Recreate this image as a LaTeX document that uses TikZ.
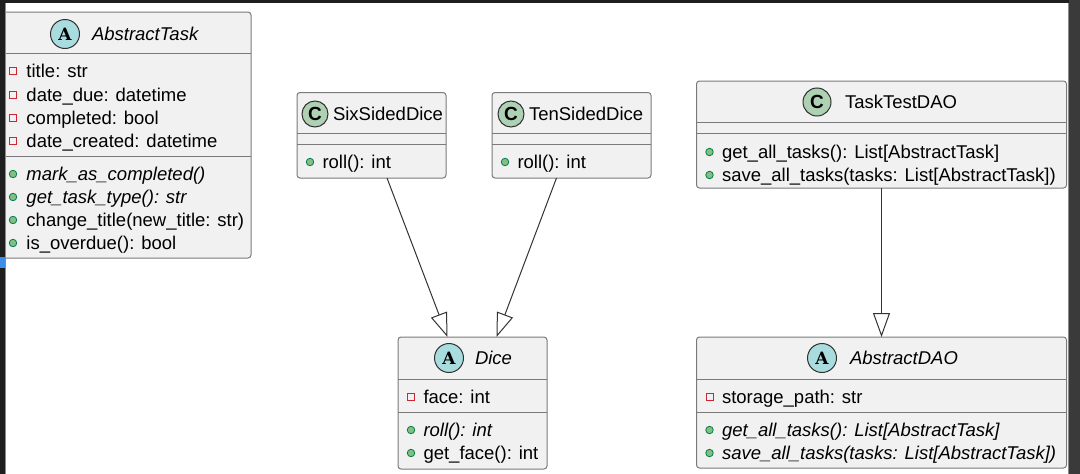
\documentclass[tikz,border=0pt]{standalone}
\usepackage{fontspec}
\setmainfont{Liberation Sans}
\newfontfamily\spotserif{DejaVu Serif}
\usetikzlibrary{arrows.meta,calc}
\definecolor{boxfill}{HTML}{F1F1F1}
\definecolor{boxline}{HTML}{7A7A7A}
\definecolor{spotline}{HTML}{303030}
\definecolor{absfill}{HTML}{A9DCDF}
\definecolor{clsfill}{HTML}{ADD1B2}
\definecolor{privred}{HTML}{C82930}
\definecolor{pubfill}{HTML}{84BE84}
\definecolor{publine}{HTML}{038048}
\definecolor{frameleft}{HTML}{1E1E1E}
\definecolor{frameright}{HTML}{3A3A3A}
\definecolor{frameedge}{HTML}{8A8A8A}
\definecolor{markblue}{HTML}{3B8EEA}
\tikzset{
  umlbox/.style={draw=boxline, fill=boxfill, line width=1pt, rounded corners=3pt, inner sep=0pt, outer sep=0pt, anchor=north west},
  sepline/.style={draw=boxline, line width=1pt},
  mtext/.style={anchor=base west, inner sep=0pt, outer sep=0pt, font=\fontsize{18.5}{22}\selectfont},
  itext/.style={mtext, font=\fontsize{18.5}{22}\selectfont\itshape},
  absspot/.style={circle, draw=spotline, fill=absfill, minimum size=29pt, inner sep=0pt, line width=1pt, font=\spotserif\bfseries\fontsize{17}{17}\selectfont},
  clsspot/.style={circle, draw=spotline, fill=clsfill, minimum size=#1, inner sep=0pt, line width=1pt, font=\bfseries\fontsize{19}{19}\selectfont},
  clsspot/.default=28pt,
  privm/.style={rectangle, draw=privred, line width=1pt, minimum size=7pt, inner sep=0pt},
  pubm/.style={circle, draw=publine, fill=pubfill, line width=0.8pt, minimum size=7.5pt, inner sep=0pt},
  ext/.style={draw=black!80, line width=1pt, -{Triangle[open, length=24pt, width=17pt]}}
}
\begin{document}
\begin{tikzpicture}[x=1pt,y=-1pt]
\useasboundingbox (0,0) rectangle (1080,474);
\fill[white] (0,0) rectangle (1080,474);

% ---------- AbstractTask ----------
\node[umlbox, minimum width=251pt, minimum height=246pt] (task) at (0,12) {};
\draw[sepline] (0,53) -- (251,53);
\draw[sepline] (0,156) -- (251,156);
\node[absspot] (taskspot) at (65,34) {A};
\node[itext] (tasktitle) at (92,40.5) {AbstractTask};
\node[privm] (tm1) at (13,71) {};
\node[mtext] (ta1) at (26.5,77.5) {title: str};
\node[privm] (tm2) at (13,94.5) {};
\node[mtext] (ta2) at (26.5,101) {date\_due: datetime};
\node[privm] (tm3) at (13,117.5) {};
\node[mtext] (ta3) at (26.5,124) {completed: bool};
\node[privm] (tm4) at (13,140.5) {};
\node[mtext] (ta4) at (26.5,147) {date\_created: datetime};
\node[pubm] (tm5) at (13,174) {};
\node[itext] (ta5) at (26.5,180.5) {mark\_as\_completed()};
\node[pubm] (tm6) at (13,197) {};
\node[itext] (ta6) at (26.5,203.5) {get\_task\_type(): str};
\node[pubm] (tm7) at (13,220) {};
\node[mtext] (ta7) at (26.5,226.5) {change\_title(new\_title: str)};
\node[pubm] (tm8) at (13,243) {};
\node[mtext] (ta8) at (26.5,249.5) {is\_overdue(): bool};

% ---------- SixSidedDice ----------
\node[umlbox, minimum width=149pt, minimum height=85.5pt] (six) at (297,92.5) {};
\draw[sepline] (297,133) -- (446,133);
\draw[sepline] (297,144) -- (446,144);
\node[clsspot=26pt] (sixspot) at (315,114) {C};
\node[mtext] (sixtitle) at (333,120.5) {SixSidedDice};
\node[pubm] (sm1) at (310,162) {};
\node[mtext] (sa1) at (322.5,168.5) {roll(): int};

% ---------- TenSidedDice ----------
\node[umlbox, minimum width=159pt, minimum height=85.5pt] (ten) at (492,92.5) {};
\draw[sepline] (492,133) -- (651,133);
\draw[sepline] (492,144) -- (651,144);
\node[clsspot=26pt] (tenspot) at (511,114) {C};
\node[mtext] (tentitle) at (529,120.5) {TenSidedDice};
\node[pubm] (nm1) at (505,162) {};
\node[mtext] (na1) at (517.5,168.5) {roll(): int};

% ---------- Dice ----------
\node[umlbox, minimum width=149pt, minimum height=132pt] (dice) at (398,337) {};
\draw[sepline] (398,379) -- (547,379);
\draw[sepline] (398,412) -- (547,412);
\node[absspot] (dicespot) at (449,358) {A};
\node[itext] (dicetitle) at (475,364.5) {Dice};
\node[privm] (dm1) at (411,396.5) {};
\node[mtext] (da1) at (423.5,403) {face: int};
\node[pubm] (dm2) at (411,430) {};
\node[itext] (da2) at (423.5,436.5) {roll(): int};
\node[pubm] (dm3) at (411,453) {};
\node[mtext] (da3) at (423.5,459.5) {get\_face(): int};

% ---------- TaskTestDAO ----------
\node[umlbox, minimum width=370pt, minimum height=107pt] (tdao) at (696.5,81) {};
\draw[sepline] (696.5,122) -- (1066.5,122);
\draw[sepline] (696.5,133) -- (1066.5,133);
\node[clsspot] (tdaospot) at (817,102) {C};
\node[mtext] (tdaotitle) at (845,108.5) {TaskTestDAO};
\node[pubm] (pm1) at (709.5,152) {};
\node[mtext] (pa1) at (722,158.5) {get\_all\_tasks(): List[AbstractTask]};
\node[pubm] (pm2) at (709.5,175) {};
\node[mtext] (pa2) at (722,181.5) {save\_all\_tasks(tasks: List[AbstractTask])};

% ---------- AbstractDAO ----------
\node[umlbox, minimum width=370pt, minimum height=131pt] (adao) at (696.5,337) {};
\draw[sepline] (696.5,379) -- (1066.5,379);
\draw[sepline] (696.5,412) -- (1066.5,412);
\node[absspot] (adaospot) at (822,358) {A};
\node[itext] (adaotitle) at (850,364.5) {AbstractDAO};
\node[privm] (qm1) at (709.5,396.5) {};
\node[mtext] (qa1) at (722,403) {storage\_path: str};
\node[pubm] (qm2) at (709.5,430) {};
\node[itext] (qa2) at (722,436.5) {get\_all\_tasks(): List[AbstractTask]};
\node[pubm] (qm3) at (709.5,453) {};
\node[itext] (qa3) at (722,459.5) {save\_all\_tasks(tasks: List[AbstractTask])};

% ---------- connectors ----------
\draw[ext] ([xshift=15.5pt]six.south) -- ([xshift=-25pt]dice.north);
\draw[ext] ([xshift=-15pt]ten.south) -- ([xshift=24pt]dice.north);
\draw[ext] (tdao.south) -- (adao.north);

% ---------- screenshot frame ----------
\fill[frameleft] (0,0) rectangle (5,474);
\fill[frameleft] (0,0) rectangle (1080,3);
\fill[frameright] (1068.5,0) rectangle (1080,474);
\draw[frameedge, line width=0.8pt] (5.4,3) -- (5.4,474);
\draw[frameedge, line width=0.8pt] (1068.2,3) -- (1068.2,474);
\fill[markblue] (0,257) rectangle (5,268);
\end{tikzpicture}
\end{document}
